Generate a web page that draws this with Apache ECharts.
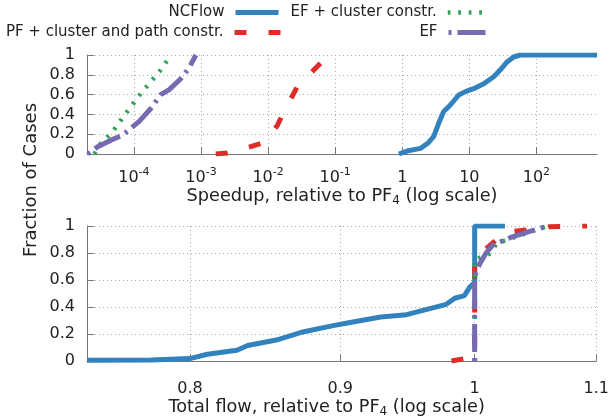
<!DOCTYPE html>
<html>
<head>
<meta charset="utf-8">
<script src="https://cdn.jsdelivr.net/npm/echarts@6/dist/echarts.min.js"></script>
<style>
  html, body { margin: 0; padding: 0; background: #fff; }
  #chart { width: 612px; height: 419px; }
</style>
</head>
<body>
<div id="chart"></div>
<script>
// series names
var seriesNames = ["NCFlow", "EF + cluster constr.", "PF + cluster and path constr.", "EF"];

// top panel: speedup relative to PF4, [speedup, fraction]
var speedNCFlow = [[0.89, 0], [1.18, 0.03], [1.87, 0.057], [2.4, 0.108], [2.94, 0.175], [3.49, 0.31],
  [4.15, 0.43], [5.22, 0.495], [6.94, 0.596], [8.73, 0.63], [11.6, 0.66], [16.4, 0.71], [23.1, 0.78],
  [29, 0.85], [36.5, 0.93], [45.8, 0.98], [57.6, 1.0], [800, 1.0]];
var speedEFCluster = [[2.57e-5, 0], [3.23e-5, 0.108], [4.82e-5, 0.225], [6.41e-5, 0.343], [9.03e-5, 0.478],
  [1.27e-4, 0.613], [1.79e-4, 0.73], [2.52e-4, 0.85], [3.56e-4, 1.0]];
var speedPFCluster = [[1.66e-3, 0], [2.48e-3, 0.01], [5.5e-3, 0.074], [8.7e-3, 0.115], [1.38e-2, 0.29],
  [1.73e-2, 0.43], [2.73e-2, 0.68], [4.3e-2, 0.815], [6.1e-2, 0.92], [7.6e-2, 1.0]];
var speedEF = [[2.05e-5, 0], [2.88e-5, 0.074], [4.55e-5, 0.14], [6.8e-5, 0.19], [1.2e-4, 0.33],
  [1.79e-4, 0.46], [2.52e-4, 0.6], [3.36e-4, 0.65], [5.0e-4, 0.76], [6.65e-4, 0.87], [8.4e-4, 1.0]];

// bottom panel: total flow relative to PF4, [flow, fraction]
var flowNCFlow = [[0.738, 0.005], [0.776, 0.007], [0.80, 0.018], [0.811, 0.05], [0.83, 0.08], [0.837, 0.115],
  [0.856, 0.155], [0.874, 0.215], [0.895, 0.262], [0.907, 0.285], [0.929, 0.326], [0.948, 0.343],
  [0.978, 0.42], [0.9845, 0.465], [0.992, 0.484], [0.996, 0.545], [1.0, 0.58], [1.0, 1.0], [1.024, 1.0]];
var flowEFCluster = [[1.0, 0], [1.0, 0.75], [1.013, 0.80], [1.017, 0.87], [1.052, 0.98], [1.059, 1.0]];
var flowPFCluster = [[0.982, 0], [0.9935, 0.02], [1.0, 0.03], [1.0, 0.73], [1.0065, 0.81], [1.0197, 0.92],
  [1.030, 0.96], [1.052, 0.98], [1.060, 0.995], [1.092, 1.0]];
var flowEF = [[1.0, 0], [1.0, 0.63], [1.004, 0.72], [1.009, 0.80], [1.0144, 0.86], [1.030, 0.92],
  [1.044, 0.96], [1.059, 1.0]];

// tick labels
var speedTicks = [1e-4, 1e-3, 1e-2, 1e-1, 1, 10, 100];
var flowTicks = [0.8, 0.9, 1, 1.1];
var fracTicks = [0, 0.2, 0.4, 0.6, 0.8, 1];

var colors = ["#3182bd", "#31a354", "#de2d26", "#756bb1"];
var dashes = ["solid", [2.7, 7.8], [12, 22], [3, 6, 28, 6]];
var widths = [5, 4.5, 5, 5];

var font = "DejaVu Sans";
var textColor = "#222";
var axisColor = "#777";

var richText = {
  b: { fontSize: 16, lineHeight: 22, fontFamily: font, color: textColor },
  t: { fontSize: 17.7, lineHeight: 22, fontFamily: font, color: textColor },
  sup: { fontSize: 11, lineHeight: 13, verticalAlign: "top", fontFamily: font, color: textColor },
  sub: { fontSize: 12, lineHeight: 13, verticalAlign: "bottom", fontFamily: font, color: textColor }
};

function decadeLabel(v) {
  var e = Math.round(Math.log10(v));
  if (Math.abs(Math.log10(v) - e) > 1e-6) return "";
  if (e === 0) return "{b|1}";
  if (e === 1) return "{b|10}";
  return "{b|10}{sup|" + e + "}";
}

function xAxisCommon(gridIndex) {
  return {
    gridIndex: gridIndex,
    type: "log",
    logBase: 10,
    nameLocation: "middle",
    nameTextStyle: { rich: richText },
    axisLine: { show: true, lineStyle: { color: axisColor, width: 1 } },
    axisTick: { show: true, inside: true, length: 7, lineStyle: { color: axisColor } },
    splitLine: { show: true, lineStyle: { type: [1, 3], color: "#aaa" } },
    minorTick: { show: false },
    axisLabel: { rich: richText }
  };
}

function yAxisCommon(gridIndex) {
  return {
    gridIndex: gridIndex,
    type: "value",
    min: 0,
    max: 1,
    interval: 0.2,
    axisLine: { show: true, lineStyle: { color: axisColor, width: 1 } },
    axisTick: { show: true, inside: true, length: 7, lineStyle: { color: axisColor } },
    splitLine: { show: true, lineStyle: { type: [1, 3], color: "#aaa" } },
    axisLabel: {
      margin: 12, fontSize: 16, fontFamily: font, color: textColor,
      formatter: function (v) { return fracTicks.indexOf(Math.round(v * 10) / 10) >= 0 ? String(Math.round(v * 10) / 10) : ""; }
    }
  };
}

var xTop = xAxisCommon(0);
xTop.min = 2e-5;
xTop.max = 800;
xTop.name = "{t|Speedup, relative to PF}{sub|4}{t| (log scale)}";
xTop.nameGap = 25;
xTop.axisTick.customValues = speedTicks;
xTop.axisLabel.customValues = speedTicks;
xTop.axisLabel.margin = 13;
xTop.axisLabel.formatter = decadeLabel;

var xBottom = xAxisCommon(1);
xBottom.min = 0.738;
xBottom.max = 1.1;
xBottom.name = "{t|Total flow, relative to PF}{sub|4}{t| (log scale)}";
xBottom.nameGap = 35;
// the bottom title sits a little left of the plot centre
xBottom.nameTextStyle.padding = [0, 30, 0, 0];
xBottom.axisTick.customValues = flowTicks;
xBottom.axisLabel.customValues = flowTicks;
xBottom.axisLabel.margin = 17;
xBottom.axisLabel.formatter = function (v) { return "{b|" + (Math.round(v * 10) / 10) + "}"; };

var topData = [speedNCFlow, speedEFCluster, speedPFCluster, speedEF];
var bottomData = [flowNCFlow, flowEFCluster, flowPFCluster, flowEF];
// drawing order: blue, red, green, purple
var drawOrder = [0, 2, 1, 3];

var series = [];
[topData, bottomData].forEach(function (panel, p) {
  drawOrder.forEach(function (i) {
    series.push({
      name: seriesNames[i],
      type: "line",
      xAxisIndex: p,
      yAxisIndex: p,
      data: panel[i],
      showSymbol: false,
      symbol: "none",
      smooth: false,
      lineStyle: { color: colors[i], width: widths[i], type: dashes[i], cap: "butt" },
      itemStyle: { color: colors[i] }
    });
  });
});

function legendFor(i, right, top, w) {
  return {
    data: [seriesNames[i]],
    right: right,
    top: top,
    padding: 0,
    align: "right",
    orient: "horizontal",
    selectedMode: false,
    itemWidth: w,
    itemHeight: 14,
    // hide the symbol drawn in the middle of the line icon
    itemStyle: { color: "rgba(0,0,0,0)", borderWidth: 0, opacity: 0 },
    lineStyle: { width: widths[i] },
    textStyle: { fontSize: 15, fontFamily: font, color: textColor, padding: [0, 6, 0, 0] }
  };
}

var chart = echarts.init(document.getElementById("chart"));
chart.setOption({
  animation: false,
  backgroundColor: "#fff",
  textStyle: { fontFamily: font },
  legend: [
    legendFor(0, 331, 5, 43),
    legendFor(1, 120, 5, 42),
    legendFor(2, 329, 25, 46),
    legendFor(3, 124, 25, 37)
  ],
  grid: [
    { left: 87, right: 15, top: 55, height: 99 },
    { left: 87, right: 15, top: 226, height: 137 }
  ],
  xAxis: [xTop, xBottom],
  yAxis: [yAxisCommon(0), yAxisCommon(1)],
  graphic: [{
    type: "text",
    x: 31,
    y: 180,
    rotation: Math.PI / 2,
    style: {
      text: "Fraction of Cases",
      font: "18px " + font,
      fill: textColor,
      align: "center",
      verticalAlign: "middle",
      textAlign: "center",
      textVerticalAlign: "middle"
    }
  }],
  series: series
});
</script>
</body>
</html>
